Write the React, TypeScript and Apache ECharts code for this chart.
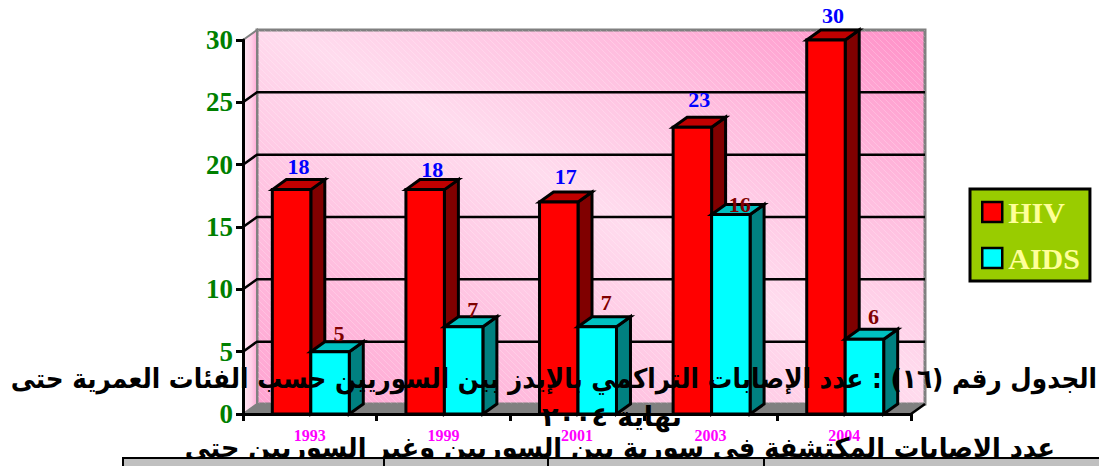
import React, { useEffect, useRef } from "react";
import * as echarts from "echarts";

// HIV / AIDS case counts among Syrians, by year
const years = ["1993", "1999", "2001", "2003", "2004"];
const hivCases = [18, 18, 17, 23, 30];
const aidsCases = [5, 7, 7, 16, 6];
const yTicks = [5, 10, 15, 20, 25];

// Vertical distance from each bar's front top edge to its value label
const hivLabelLift = [23, 20, 26, 28, 25];
const aidsLabelLift = [18, 17, 24, 10, 23];

const headingFirst = "الجدول رقم (١٦) : عدد الإصابات التراكمي بالإيدز بين السوريين حسب الفئات العمرية حتى";
const headingSecond = "نهاية ٢٠٠٤";
const headingThird = "عدد الإصابات المكتشفة في سورية بين السوريين وغير السوريين حتى";

// Oblique projection used for the pseudo-3D box
const DEPTH_X = 14;
const DEPTH_Y = -10;
const SERIF = "'Liberation Serif', 'Times New Roman', serif";
const ARABIC = "'DejaVu Sans', sans-serif";

function hatchPattern() {
  const c = document.createElement("canvas");
  c.width = 6;
  c.height = 6;
  const g = c.getContext("2d")!;
  g.strokeStyle = "rgba(255,255,255,0.22)";
  g.lineWidth = 1;
  g.beginPath();
  g.moveTo(0, 0);
  g.lineTo(6, 6);
  g.stroke();
  return { image: c.toDataURL(), repeat: "repeat" };
}

function wallRenderer(hatch: any) {
  return (params: any, api: any) => {
    const cs = params.coordSys;
    const x0 = cs.x;
    const x1 = cs.x + cs.width;
    const yBottom = api.coord([0, 0])[1];
    const yTop = api.coord([0, 30])[1];
    const back = (x: number, y: number) => [x + DEPTH_X, y + DEPTH_Y];
    const wall = [back(x0, yTop), back(x1, yTop), back(x1, yBottom), back(x0, yBottom)];
    const children: any[] = [
      {
        type: "polygon",
        shape: { points: wall },
        style: {
          fill: new echarts.graphic.LinearGradient(0, 1, 1, 0, [
            { offset: 0, color: "#ffa3d1" },
            { offset: 0.25, color: "#ffbfdf" },
            { offset: 0.52, color: "#ffdcee" },
            { offset: 0.75, color: "#ffbcde" },
            { offset: 1, color: "#ff8fc7" },
          ]),
          stroke: "#808080",
          lineWidth: 3,
        },
      },
      { type: "polygon", shape: { points: wall }, style: { fill: hatch } },
      {
        type: "polygon",
        shape: { points: [[x0, yTop], back(x0, yTop), back(x0, yBottom), [x0, yBottom]] },
        style: {
          fill: new echarts.graphic.LinearGradient(0, 0, 1, 0, [
            { offset: 0, color: "#ffe8f4" },
            { offset: 0.6, color: "#ffd0e8" },
            { offset: 1, color: "#ffa8d4" },
          ]),
          stroke: "#808080",
          lineWidth: 2,
        },
      },
      {
        type: "polygon",
        shape: { points: [[x0, yBottom], back(x0, yBottom), back(x1, yBottom), [x1, yBottom]] },
        style: { fill: "#808080", stroke: "#808080", lineWidth: 1 },
      },
    ];
    yTicks.forEach((t) => {
      const y = api.coord([0, t])[1];
      const b = back(x0, y);
      children.push({
        type: "polyline",
        shape: { points: [[x0, y], b, back(x1, y)] },
        style: { fill: "none", stroke: "#000", lineWidth: 2.5 },
      });
    });
    // Slanted floor end where the base meets the right side
    children.push({
      type: "line",
      shape: { x1, y1: yBottom, x2: x1 + DEPTH_X, y2: yBottom + DEPTH_Y },
      style: { stroke: "#000", lineWidth: 2.5 },
    });
    return { type: "group", children };
  };
}

function barRenderer(
  side: -1 | 0,
  front: string,
  top: string,
  flank: string,
  labelColor: string,
  lift: number[],
  labelShift: number,
) {
  return (_params: any, api: any) => {
    const i = api.value(0);
    const v = api.value(1);
    const [center, yTop] = api.coord([i, v]);
    const yBase = api.coord([i, 0])[1];
    const w = api.size([1, 0])[0] * 0.288;
    const xL = center + 1 + side * w;
    const xR = xL + w;
    const line = { stroke: "#000", lineWidth: 3, lineJoin: "miter" };
    return {
      type: "group",
      children: [
        {
          type: "polygon",
          shape: {
            points: [
              [xR, yTop],
              [xR + DEPTH_X, yTop + DEPTH_Y],
              [xR + DEPTH_X, yBase + DEPTH_Y],
              [xR, yBase],
            ],
          },
          style: { fill: flank, ...line },
        },
        {
          type: "polygon",
          shape: {
            points: [
              [xL, yTop],
              [xL + DEPTH_X, yTop + DEPTH_Y],
              [xR + DEPTH_X, yTop + DEPTH_Y],
              [xR, yTop],
            ],
          },
          style: { fill: top, ...line },
        },
        {
          type: "rect",
          shape: { x: xL, y: yTop, width: w, height: yBase - yTop },
          style: { fill: front, ...line },
        },
        {
          type: "text",
          x: xL + w / 2 + labelShift,
          y: yTop - lift[i],
          style: {
            text: String(v),
            fill: labelColor,
            font: `bold 22px ${SERIF}`,
            textAlign: "center",
            textVerticalAlign: "middle",
          },
        },
      ],
    };
  };
}

export default function App() {
  const ref = useRef<HTMLDivElement>(null);

  useEffect(() => {
    document.body.style.margin = "0";
    const chart = echarts.init(ref.current!, undefined, { renderer: "svg" });
    const arabicText = (text: string, x: number, y: number, size: number, align: string, scaleX = 1) => ({
      type: "text",
      z: 100,
      x,
      y,
      scaleX,
      style: {
        text,
        fill: "#000",
        font: `bold ${size}px ${ARABIC}`,
        textAlign: align,
        textVerticalAlign: "middle",
      },
    });
    chart.setOption({
      animation: false,
      backgroundColor: "#fff",
      grid: { left: 243, top: 40, width: 668, height: 374, containLabel: false },
      legend: {
        data: ["HIV", "AIDS"],
        orient: "vertical",
        left: 970,
        top: 189,
        width: 122,
        padding: [8, 10, 8, 11],
        itemWidth: 20,
        itemHeight: 20,
        itemGap: 16,
        icon: "rect",
        backgroundColor: "#99cc00",
        borderColor: "#000",
        borderWidth: 3,
        itemStyle: { borderColor: "#000", borderWidth: 2.5 },
        textStyle: { color: "#ffff99", fontFamily: SERIF, fontWeight: "bold", fontSize: 30, padding: [0, 0, 0, 1] },
      },
      xAxis: {
        type: "category",
        data: years,
        z: 10,
        axisLine: { lineStyle: { color: "#000", width: 3 } },
        axisTick: { show: true, length: 7, lineStyle: { color: "#000", width: 3 } },
        axisLabel: { color: "#ff00ff", fontFamily: SERIF, fontWeight: "bold", fontSize: 16, margin: 13 },
        splitLine: { show: false },
      },
      yAxis: {
        type: "value",
        min: 0,
        max: 30,
        interval: 5,
        z: 10,
        axisLine: { show: true, lineStyle: { color: "#000", width: 3 } },
        axisTick: { show: true, length: 7, lineStyle: { color: "#000", width: 3 } },
        axisLabel: { color: "#008000", fontFamily: SERIF, fontWeight: "bold", fontSize: 27, margin: 10 },
        splitLine: { show: false },
      },
      series: [
        {
          type: "custom",
          name: "wall",
          z: 1,
          silent: true,
          clip: false,
          data: [[0, 0]],
          encode: { x: 0, y: 1 },
          renderItem: wallRenderer(hatchPattern()),
        },
        {
          type: "custom",
          name: "HIV",
          z: 2,
          clip: false,
          itemStyle: { color: "#ff0000" },
          data: years.map((_, i) => [i, hivCases[i]]),
          encode: { x: 0, y: 1 },
          renderItem: barRenderer(-1, "#ff0000", "#c00000", "#800000", "#0000ff", hivLabelLift, 7),
        },
        {
          type: "custom",
          name: "AIDS",
          z: 3,
          clip: false,
          itemStyle: { color: "#00ffff" },
          data: years.map((_, i) => [i, aidsCases[i]]),
          encode: { x: 0, y: 1 },
          renderItem: barRenderer(0, "#00ffff", "#00c0c0", "#008080", "#800000", aidsLabelLift, 9),
        },
      ],
      graphic: [
        arabicText(headingFirst, 1097, 379, 27, "right", 0.916),
        arabicText(headingSecond, 612, 416, 27, "center"),
        arabicText(headingThird, 1055, 448, 27, "right", 0.947),
        {
          type: "rect",
          z: 101,
          shape: { x: 123, y: 458, width: 980, height: 12 },
          style: { fill: "#c0c0c0", stroke: "#000", lineWidth: 2 },
        },
        ...[384, 548, 764].map((x) => ({
          type: "line",
          z: 102,
          shape: { x1: x, y1: 458, x2: x, y2: 466 },
          style: { stroke: "#000", lineWidth: 2 },
        })),
      ],
    });
    return () => chart.dispose();
  }, []);

  return <div ref={ref} style={{ width: 1099, height: 466 }} />;
}
